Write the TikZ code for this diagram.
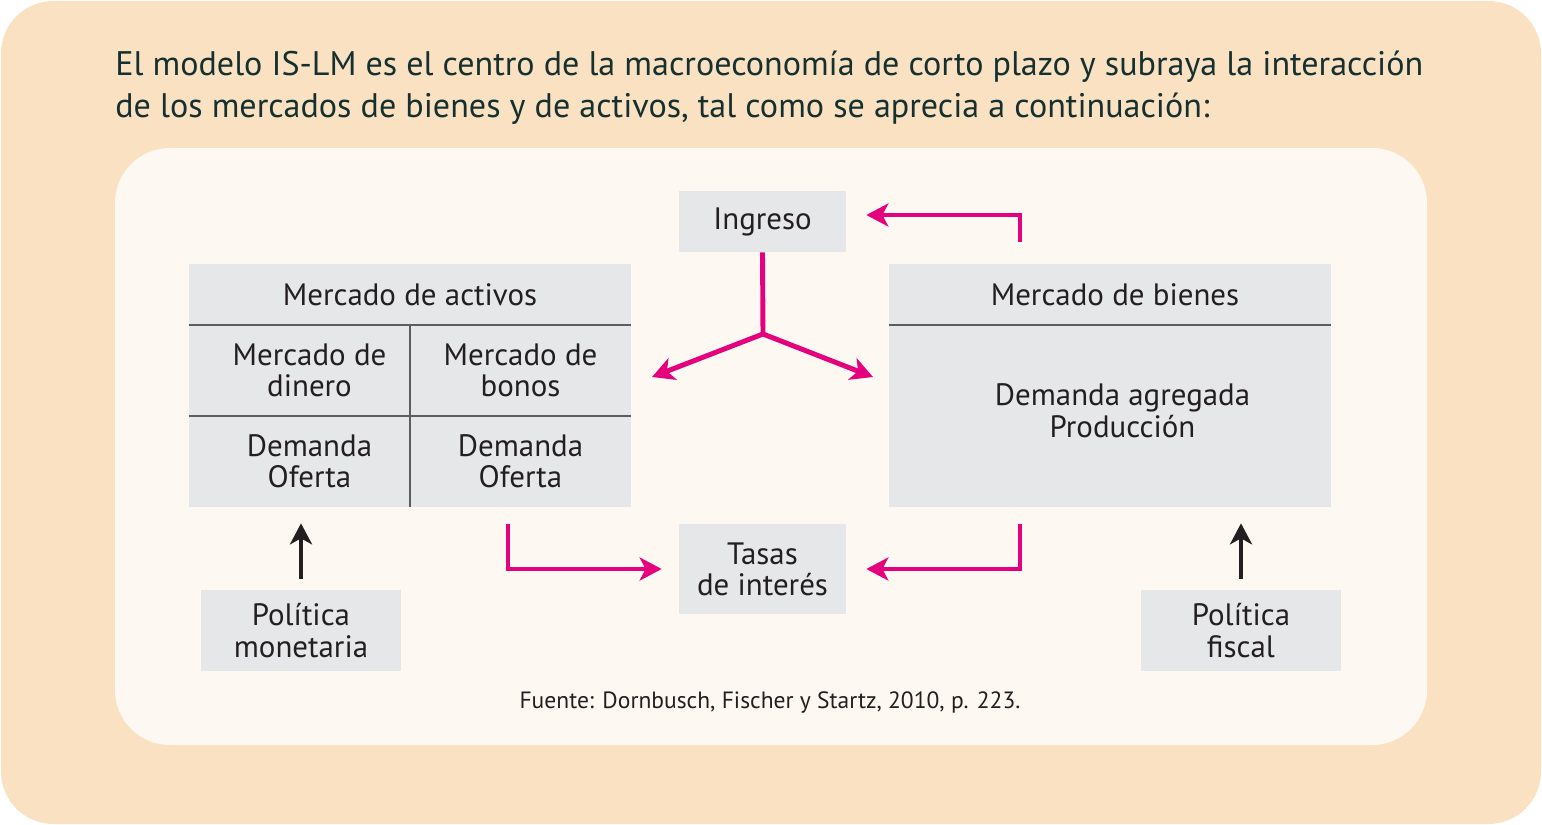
\documentclass[tikz,border=0pt]{standalone}
\usepackage{fontspec}
\setmainfont{PT Sans}
\usepackage{xcolor}
\usepackage{tikz}
\usetikzlibrary{arrows.meta,positioning,calc}
\definecolor{peach}{HTML}{FAE1C2}
\definecolor{cream}{HTML}{FDF8F1}
\definecolor{boxg}{HTML}{E6E7E8}
\definecolor{rulec}{HTML}{5C5D5F}
\definecolor{mag}{HTML}{E5007D}
\definecolor{inkd}{HTML}{231F20}
\definecolor{headc}{HTML}{15302F}
\tikzset{
  gbox/.style={rectangle, fill=boxg, draw=none, align=center, inner sep=2pt, text=inkd,
               font=\fontsize{17.6}{17.8}\selectfont},
  headtxt/.style={anchor=base west, inner sep=0pt, text=headc, font=\fontsize{19.4}{22}\selectfont},
  divline/.style={draw=rulec, line width=1.2pt},
  magarr/.style={-{Stealth[length=0.44cm,width=0.46cm,inset=0.12cm]}, line width=2.8pt, draw=mag},
  magln/.style={line width=2.8pt, draw=mag},
  blkarr/.style={-{Stealth[length=0.42cm,width=0.44cm,inset=0.12cm]}, line width=2.3pt, draw=inkd},
}
\begin{document}
\begin{tikzpicture}[x=0.02cm, y=-0.02cm]
  \useasboundingbox (0,0) rectangle (1542,825);
  % frames
  \fill[peach, rounded corners=1.05cm] (1,1) rectangle (1541,824);
  \fill[cream, rounded corners=1.1cm] (115,148) rectangle (1427,745);
  \node[headtxt] (head1) at (115,75) {El modelo IS-LM es el centro de la macroeconomía de corto plazo y subraya la interacción};
  \node[headtxt] (head2) at (115,117) {de los mercados de bienes y de activos, tal como se aprecia a continuación:};
  % boxes
  \node[gbox, minimum width=3.34cm, minimum height=1.22cm] (ingreso) at (762.5,221.5) {Ingreso};
  \node[gbox, minimum width=8.84cm, minimum height=1.22cm] (activos) at (410,294.5) {Mercado de activos};
  \node[gbox, minimum width=4.42cm, minimum height=1.82cm] (dinero) at (299.5,370.5) {\hspace{0.4cm}Mercado de\\\hspace{0.4cm}dinero};
  \node[gbox, minimum width=4.42cm, minimum height=1.82cm] (bonos) at (520.5,370.5) {Mercado de\\bonos};
  \node[gbox, minimum width=4.42cm, minimum height=1.82cm] (dineroDO) at (299.5,461.5) {\hspace{0.4cm}Demanda\\\hspace{0.4cm}Oferta};
  \node[gbox, minimum width=4.42cm, minimum height=1.82cm] (bonosDO) at (520.5,461.5) {Demanda\\Oferta};
  \node[gbox, minimum width=8.84cm, minimum height=1.22cm] (bienes) at (1110,294.5) {\hspace{0.2cm}Mercado de bienes};
  \node[gbox, minimum width=8.84cm, minimum height=3.64cm] (bienesDP) at (1110,416) {\hspace{0.5cm}Demanda agregada\\\hspace{0.5cm}Producción\rule[-0.22cm]{0pt}{0pt}};
  \node[gbox, minimum width=3.34cm, minimum height=1.8cm] (tasas) at (762.5,569) {Tasas\\de interés};
  \node[gbox, minimum width=4.0cm, minimum height=1.62cm] (monetaria) at (301,630.5) {Política\\monetaria};
  \node[gbox, minimum width=4.0cm, minimum height=1.62cm] (fiscal) at (1241,630.5) {Política\\fiscal};
  \node[text=inkd, font=\fontsize{13.4}{15}\selectfont] (fuente) at (770,703) {Fuente: Dornbusch, Fischer y Startz, 2010, p. 223.};
  % dividers
  \draw[divline] (activos.south west) -- (activos.south east);
  \draw[divline] (dinero.south west) -- (bonos.south east);
  \draw[divline] (dinero.north east) -- (dineroDO.south east);
  \draw[divline] (bienes.south west) -- (bienes.south east);
  % connectors
  \coordinate (fork) at (763,334);
  \coordinate (ingL) at (652,377);
  \coordinate (ingR) at (873,377);
  \coordinate (bup) at (1020,242);
  \coordinate (aout) at (508,524);
  \coordinate (bout) at (1020,524);
  \draw[magln] (ingreso.south) -- (fork);
  \draw[magarr] (fork) -- (ingL);
  \draw[magarr] (fork) -- (ingR);
  \draw[magarr, shorten >=0.4cm] (bup) |- ([yshift=0.13cm]ingreso.east);
  \draw[magarr, shorten >=0.34cm] (aout) |- (tasas.west);
  \draw[magarr, shorten >=0.4cm] (bout) |- (tasas.east);
  \draw[blkarr, shorten <=0.22cm, shorten >=0.32cm] (monetaria.north) -- (monetaria.north |- dineroDO.south);
  \draw[blkarr, shorten <=0.22cm, shorten >=0.32cm] (fiscal.north) -- (fiscal.north |- bienesDP.south);
\end{tikzpicture}
\end{document}
